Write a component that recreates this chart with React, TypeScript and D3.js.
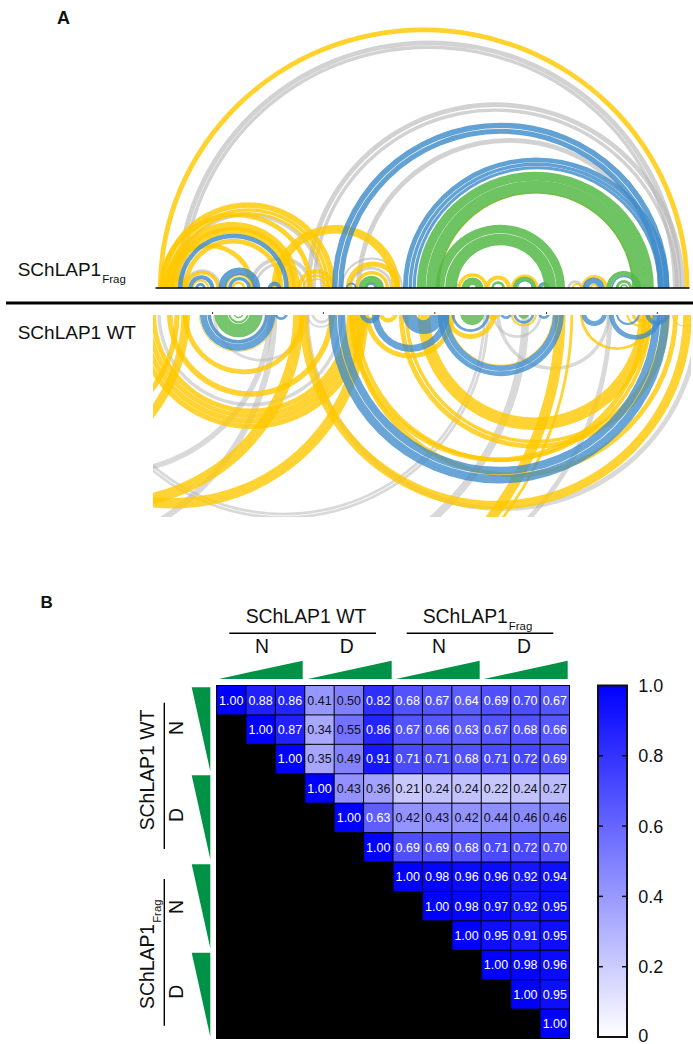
import * as d3 from "d3";

type Band = [number, number, number]; // arc start, arc end, band width (sequence position)

const FONT = "Arial, 'Liberation Sans', sans-serif";

// arc diagram, SChLAP1 Frag
const fragGray: Band[] = [
  [75, 1535, 14], [90, 1520, 10], [450, 1545, 14], [468, 1527, 10], [595, 1480, 14],
  [60, 500, 9], [285, 470, 11], [300, 450, 8], [550, 730, 6], [575, 700, 8],
  [1205, 1250, 8], [95, 205, 10], [875, 900, 6],
];
const fragYellow: Band[] = [
  [22, 1558, 14], [30, 535, 16], [47, 518, 10], [58, 506, 7], [43, 432, 36],
  [25, 470, 14], [36, 300, 14], [60, 420, 10], [95, 385, 14], [350, 722, 25],
  [425, 535, 12], [440, 520, 7], [452, 510, 5], [30, 110, 18], [565, 722, 15],
  [590, 690, 10], [832, 1397, 4], [888, 975, 10], [968, 1042, 12], [1042, 1122, 8],
  [1218, 1248, 6], [1245, 1322, 10], [1270, 1295, 6], [100, 200, 10], [120, 170, 6],
  [215, 300, 8], [235, 275, 8],
];
const fragBlue: Band[] = [
  [525, 1500, 16], [543, 1482, 15], [730, 1500, 14], [746, 1486, 10], [758, 1476, 9],
  [80, 400, 13], [110, 185, 12], [130, 160, 8], [197, 318, 22], [225, 290, 10],
  [340, 378, 12], [565, 597, 6], [620, 655, 8], [1120, 1155, 8], [1250, 1312, 18],
  [1332, 1405, 5], [1060, 1105, 3],
];
const fragGreen: Band[] = [
  [770, 1455, 26], [797, 1430, 38], [825, 1198, 25], [852, 1172, 34],
  [603, 675, 22], [900, 962, 22], [985, 1025, 8], [1048, 1115, 12], [1127, 1148, 5],
  [1318, 1418, 14], [1345, 1392, 8], [1358, 1380, 4],
];

// arc diagram, SChLAP1 WT
const wtGray: Band[] = [
  [-582, 355, 16], [-1073, 367, 18], [-210, 980, 8], [-200, 970, 8], [-515, 1095, 22],
  [-417, 1335, 14], [445, 1590, 14], [20, 560, 10], [180, 460, 8], [465, 525, 8],
  [450, 535, 5], [1000, 1330, 10], [988, 1132, 8], [165, 340, 10], [1505, 1585, 4],
];
const wtYellow: Band[] = [
  [-857, 115, 25], [-671, 85, 15], [-690, 445, 32], [-500, 630, 30], [430, 1565, 25],
  [-45, 625, 15], [-29, 610, 15], [-13, 596, 14], [2, 582, 14], [48, 532, 16],
  [93, 447, 14], [-782, 1200, 30], [-740, 1222, 8], [575, 1525, 14], [590, 1450, 10],
  [574, 1436, 14], [718, 1502, 14], [735, 1488, 10], [772, 1448, 36], [619, 881, 14],
  [860, 1165, 3], [850, 1000, 14], [615, 655, 8], [660, 715, 12], [970, 1010, 20],
  [1040, 1118, 6], [1241, 1455, 8], [1390, 1445, 10], [1375, 1455, 6], [140, 365, 2],
];
const wtBlue: Band[] = [
  [515, 1500, 24], [541, 1474, 22], [830, 1195, 14], [845, 1180, 16], [640, 865, 20],
  [728, 850, 40], [605, 665, 14], [143, 362, 20], [165, 342, 10], [358, 398, 8],
  [870, 980, 8], [1010, 1045, 8], [1048, 1110, 8], [1120, 1155, 8], [1245, 1320, 14],
  [1325, 1480, 14], [1345, 1415, 6], [1430, 1500, 12],
];
const wtGreen: Band[] = [
  [185, 325, 38], [225, 285, 6], [240, 270, 4], [895, 965, 30], [1062, 1095, 12],
];
const wtTicks = [180, 500, 822, 1145, 1465];

// similarity matrix
const sampleIdx = d3.range(12);
const similarity: number[][] = [
  [1.0, 0.88, 0.86, 0.41, 0.5, 0.82, 0.68, 0.67, 0.64, 0.69, 0.7, 0.67],
  [1.0, 0.87, 0.34, 0.55, 0.86, 0.67, 0.66, 0.63, 0.67, 0.68, 0.66],
  [1.0, 0.35, 0.49, 0.91, 0.71, 0.71, 0.68, 0.71, 0.72, 0.69],
  [1.0, 0.43, 0.36, 0.21, 0.24, 0.24, 0.22, 0.24, 0.27],
  [1.0, 0.63, 0.42, 0.43, 0.42, 0.44, 0.46, 0.46],
  [1.0, 0.69, 0.69, 0.68, 0.71, 0.72, 0.7],
  [1.0, 0.98, 0.96, 0.96, 0.92, 0.94],
  [1.0, 0.98, 0.97, 0.92, 0.95],
  [1.0, 0.95, 0.91, 0.95],
  [1.0, 0.98, 0.96],
  [1.0, 0.95],
  [1.0],
];
const barTicks = [0, 0.2, 0.4, 0.6, 0.8, 1];

const YELLOW = "#ffc800";
const BLUE = "#3f8ccb";
const GREEN = "#55b848";
const GRAY = "#b4b4b4";
const TRI_GREEN = "#009347";

const px = d3.scaleLinear().domain([15, 1558]).range([155.5, 689.5]);
const color = d3.scaleLinear<string>().domain([0, 1]).range(["#ffffff", "#0000ff"]);
const cellX = d3.scaleBand<number>().domain(sampleIdx).range([217, 569]).paddingInner(0.035);
const cellY = d3.scaleBand<number>().domain(sampleIdx).range([686, 1038]).paddingInner(0.035);
const barY = d3.scaleLinear().domain([0, 1]).range([1037, 685.5]);

const arcGen = d3.arc();

function Arcs({ bands, fill, opacity, baseY, flip }: { bands: Band[]; fill: string; opacity: number; baseY: number; flip?: boolean }) {
  return (
    <g fill={fill} fillOpacity={opacity}>
      {bands.map(([s, e, w], i) => {
        const outer = (px(e) - px(s)) / 2;
        const inner = outer - (px(w) - px(0));
        const d = arcGen({
          innerRadius: Math.max(inner, 0),
          outerRadius: outer,
          startAngle: flip ? Math.PI / 2 : -Math.PI / 2,
          endAngle: flip ? (3 * Math.PI) / 2 : Math.PI / 2,
        })!;
        // the upper diagram is a touch flatter than a true semicircle
        return <path key={i} d={d} transform={`translate(${px((s + e) / 2)},${baseY}) scale(1,${flip ? 1 : 0.98})`} />;
      })}
    </g>
  );
}

function Frag({ x, y, size, subSize, anchor }: { x: number; y: number; size: number; subSize: number; anchor?: string }) {
  return (
    <text x={x} y={y} fontSize={size} textAnchor={anchor ?? "start"}>
      SChLAP1
      <tspan fontSize={subSize} dy={size * 0.36} dx={1}>Frag</tspan>
    </text>
  );
}

const topTris = [218.7, 307.7, 395.7, 483.7];
const sideTris = [687.3, 775.3, 864.3, 952.7];

export default function App() {
  return (
    <svg width={693} height={1044} style={{ position: "absolute", left: 0, top: 0 }} fontFamily={FONT} fill="#111">
      <defs>
        <clipPath id="topClip"><rect x={150} y={0} width={543} height={288} /></clipPath>
        <clipPath id="wtClip"><rect x={153} y={315} width={538} height={202} /></clipPath>
        <linearGradient id="barGrad" x1="0" y1="1" x2="0" y2="0">
          <stop offset="0" stopColor={color(0)} />
          <stop offset="1" stopColor={color(1)} />
        </linearGradient>
      </defs>

      <text x={57} y={24} fontSize={18} fontWeight="bold">A</text>
      <text x={40.5} y={608} fontSize={17} fontWeight="bold">B</text>

      {/* arc diagrams */}
      <g clipPath="url(#topClip)">
        <Arcs bands={fragGray} fill={GRAY} opacity={0.6} baseY={288} />
        <Arcs bands={fragYellow} fill={YELLOW} opacity={0.82} baseY={288} />
        <Arcs bands={fragBlue} fill={BLUE} opacity={0.82} baseY={288} />
        <Arcs bands={fragGreen} fill={GREEN} opacity={0.85} baseY={288} />
      </g>
      <line x1={155.5} x2={689.5} y1={288} y2={288} stroke="#000" strokeWidth={1.5} />
      <Frag x={17.7} y={276} size={19} subSize={11.5} />

      <rect x={6} y={301.5} width={687} height={3} fill="#000" />

      <g clipPath="url(#wtClip)">
        <Arcs bands={wtGray} fill={GRAY} opacity={0.5} baseY={313} flip />
        <Arcs bands={wtYellow} fill={YELLOW} opacity={0.8} baseY={313} flip />
        <Arcs bands={wtBlue} fill={BLUE} opacity={0.78} baseY={313} flip />
        <Arcs bands={wtGreen} fill={GREEN} opacity={0.8} baseY={313} flip />
      </g>
      {wtTicks.map((t) => (
        <line key={t} x1={px(t)} x2={px(t)} y1={312} y2={314} stroke="#333" strokeWidth={1} />
      ))}
      <text x={17.7} y={339} fontSize={19}>SChLAP1 WT</text>

      {/* heat map */}
      <rect x={216} y={685} width={354} height={354} fill="#000" />
      {similarity.map((row, i) =>
        row.map((v, k) => {
          const col = i + k;
          return (
            <g key={col + "-" + i}>
              <rect x={cellX(col)} y={cellY(i)} width={cellX.bandwidth()} height={cellY.bandwidth()} fill={color(v)} />
              <text
                x={cellX(col)! + cellX.bandwidth() / 2}
                y={cellY(i)! + cellY.bandwidth() / 2 + 4.4}
                textAnchor="middle"
                fontSize={12.5}
                fill={v >= 0.6 ? "#fff" : "#111"}
              >
                {v.toFixed(2)}
              </text>
            </g>
          );
        })
      )}

      {/* column headers */}
      <text x={306} y={622.7} fontSize={19.4} textAnchor="middle">SChLAP1 WT</text>
      <Frag x={422.7} y={622.7} size={19.4} subSize={11.4} />
      <line x1={229.3} x2={376} y1={633.3} y2={633.3} stroke="#000" strokeWidth={1.4} />
      <line x1={406.7} x2={553.3} y1={633.3} y2={633.3} stroke="#000" strokeWidth={1.4} />
      {[["N", 262], ["D", 346.7], ["N", 439], ["D", 524]].map(([t, x]) => (
        <text key={x as number} x={x as number} y={652.7} fontSize={19.4} textAnchor="middle">{t}</text>
      ))}
      {topTris.map((x) => (
        <path key={x} d={d3.line()([[x, 679], [x + 84, 679], [x + 84, 660.7]])! + "Z"} fill={TRI_GREEN} />
      ))}

      {/* row headers */}
      {sideTris.map((y) => (
        <path key={y} d={d3.line()([[191.7, y], [210.3, y], [210.3, y + 84]])! + "Z"} fill={TRI_GREEN} />
      ))}
      <text transform="translate(154,770) rotate(-90)" fontSize={19.4} textAnchor="middle">SChLAP1 WT</text>
      <g transform="translate(154,1009) rotate(-90)">
        <Frag x={0} y={0} size={19.4} subSize={11.4} />
      </g>
      {[["N", 728], ["D", 815], ["N", 907], ["D", 991.7]].map(([t, y]) => (
        <text key={y as number} transform={`translate(183,${y}) rotate(-90)`} fontSize={19.4} textAnchor="middle">{t}</text>
      ))}
      <line x1={164.3} x2={164.3} y1={702.7} y2={849} stroke="#000" strokeWidth={1.4} />
      <line x1={164.3} x2={164.3} y1={879} y2={1025.7} stroke="#000" strokeWidth={1.4} />

      {/* colour bar */}
      <rect x={598} y={barY(1)} width={29} height={barY(0) - barY(1)} fill="url(#barGrad)" stroke="#111" strokeWidth={2} />
      {barTicks.map((t) => (
        <g key={t}>
          {t > 0 && t < 1 && (
            <>
              <line x1={598} x2={603} y1={barY(t)} y2={barY(t)} stroke="#111" strokeWidth={1.5} />
              <line x1={622} x2={627} y1={barY(t)} y2={barY(t)} stroke="#111" strokeWidth={1.5} />
            </>
          )}
          <text x={638.3} y={t === 0 ? 1041.5 : barY(t) + 6.5} fontSize={18}>{t === 0 ? "0" : t.toFixed(1)}</text>
        </g>
      ))}
    </svg>
  );
}
